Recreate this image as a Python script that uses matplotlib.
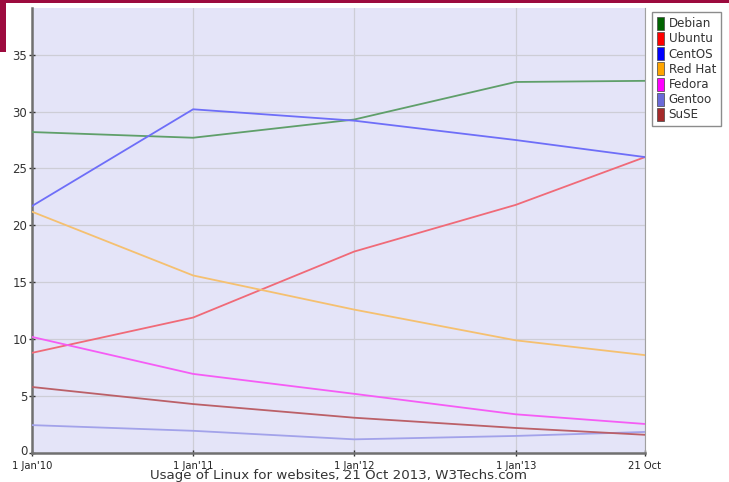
import datetime as dt
import matplotlib
matplotlib.use("Agg")
import matplotlib.pyplot as plt
import matplotlib.transforms as mtransforms
from matplotlib.patches import Patch, Rectangle

dates = [dt.date(2010, 1, 1), dt.date(2011, 1, 1), dt.date(2012, 1, 1),
         dt.date(2013, 1, 1), dt.date(2013, 10, 21)]
tick_labels = ["1 Jan'10", "1 Jan'11", "1 Jan'12", "1 Jan'13", "21 Oct"]

series_names = ["Debian", "Ubuntu", "CentOS", "Red Hat", "Fedora", "Gentoo", "SuSE"]
debian = [28.2, 27.7, 29.3, 32.6, 32.7]
ubuntu = [8.8, 11.9, 17.7, 21.8, 26.0]
centos = [21.7, 30.2, 29.2, 27.5, 26.0]
redhat = [21.2, 15.6, 12.6, 9.9, 8.6]
fedora = [10.2, 6.95, 5.2, 3.4, 2.55]
gentoo = [2.45, 1.95, 1.2, 1.5, 1.85]
suse = [5.8, 4.3, 3.1, 2.2, 1.6]
values = [debian, ubuntu, centos, redhat, fedora, gentoo, suse]

legend_colors = ["#006400", "#ff0000", "#0000ff", "#ffa500", "#ff00ff", "#6a6ad8", "#a52a2a"]
line_colors = ["#5f9f6a", "#f06a78", "#6e6ef8", "#f5c070", "#f55cf5", "#a2a2ea", "#bb6068"]

fig = plt.figure(figsize=(7.29, 4.82), dpi=100)
fig.patch.set_facecolor("white")
ax = fig.add_axes([32/729, 29/482, (645-32)/729, (453-8)/482])
ax.set_facecolor("#e4e4f8")

for vals, c in zip(values, line_colors):
    ax.plot(dates, vals, color=c, lw=1.3, zorder=3)

ax.set_xlim(dates[0], dates[-1])
ax.set_ylim(0, 39.1)
ax.set_yticks(range(0, 40, 5))
ax.set_xticks(dates)
ax.set_xticklabels(tick_labels)
ax.grid(True, color="#cdcdd6", lw=0.9, zorder=1)
ax.tick_params(axis="both", colors="#333333", direction="inout",
               length=5, width=1)
ax.tick_params(axis="y", labelsize=8.5, pad=1)
ax.tick_params(axis="x", labelsize=7.2, pad=3)
for lab in ax.get_xticklabels():
    lab.set_color("#222222")
ax.spines["top"].set_visible(False)
ax.spines["right"].set_color("#a0a0a0")
ax.spines["left"].set_color("#707070")
ax.spines["bottom"].set_color("#707070")
ax.spines["left"].set_linewidth(1.8)
ax.spines["bottom"].set_linewidth(1.8)

# lift the "0" label slightly so it clears the first date label
fig.canvas.draw()
zero_lab = ax.get_yticklabels()[0]
zero_lab.set_transform(zero_lab.get_transform() +
                       mtransforms.ScaledTranslation(0, 3/100, fig.dpi_scale_trans))

fig.text(338/729, 1 - 476/482, "Usage of Linux for websites, 21 Oct 2013, W3Techs.com",
         ha="center", va="center", fontsize=9.6, color="#333333")

handles = [Patch(facecolor=c, edgecolor="#444444", lw=0.5) for c in legend_colors]
leg = fig.legend(handles, series_names, loc="upper left",
                 bbox_to_anchor=(652/729, 1 - 12/482), fontsize=8.6,
                 frameon=True, fancybox=False, handlelength=0.6, handleheight=1.3,
                 handletextpad=0.4, labelspacing=0.14, borderpad=0.4,
                 borderaxespad=0)
leg.get_frame().set_edgecolor("#707070")
leg.get_frame().set_linewidth(1.0)
for t in leg.get_texts():
    t.set_color("#333333")

# screenshot border artifacts
fig.patches.append(Rectangle((0, 1 - 3/482), 1, 3/482, transform=fig.transFigure,
                             facecolor="#9c0b3e", edgecolor="none", zorder=10))
fig.patches.append(Rectangle((0, 1 - 52/482), 6/729, 52/482, transform=fig.transFigure,
                             facecolor="#9c0b3e", edgecolor="none", zorder=10))

fig.savefig("out.png", dpi=100)
